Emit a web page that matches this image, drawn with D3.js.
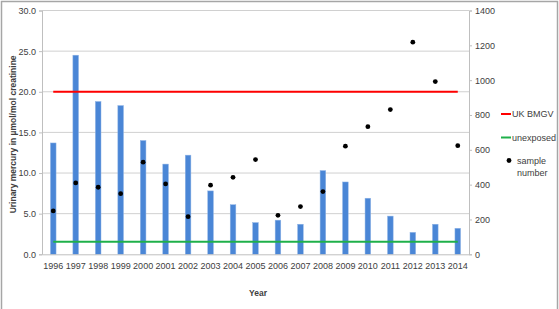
<!DOCTYPE html>
<meta charset='utf-8'>
<style type="text/css">
  body { margin: 0; background: #fff; }
  svg text { font-family: "Liberation Sans Narrow", "Arial Narrow", "Liberation Sans", sans-serif; fill: #404040; }
</style>
<body>
<div class="chart"></div>
<script src='https://cdn.jsdelivr.net/npm/d3@7'></script>
<script>

var years = ['1996','1997','1998','1999','2000','2001','2002','2003','2004','2005',
             '2006','2007','2008','2009','2010','2011','2012','2013','2014'];
var mercury = [13.7, 24.5, 18.8, 18.3, 14.0, 11.1, 12.2, 7.8, 6.1, 3.9,
               4.2, 3.7, 10.3, 8.9, 6.9, 4.7, 2.7, 3.7, 3.2];
var sampleNumber = [249, 410, 385, 348, 529, 404, 216, 397, 442, 544,
                    224, 274, 360, 621, 733, 831, 1218, 992, 624];
var ukBmgv = 20;
var unexposed = 1.55;
var leftTicks = [0, 5, 10, 15, 20, 25, 30];
var rightTicks = [0, 200, 400, 600, 800, 1000, 1200, 1400];

var width = 559, height = 309;
var plot = {left: 42, right: 469, top: 10.5, bottom: 254.3};

var svg = d3.select('.chart')
  .append('svg')
  .attr('width', width)
  .attr('height', height);

// outer chart border
svg.append('path')
  .attr('d', 'M1.5,312V1.5H557.5V312')
  .attr('fill', 'none')
  .attr('stroke', '#a6a6a6')
  .attr('stroke-width', 1.5);

var x = d3.scaleBand()
  .domain(years)
  .range([plot.left, plot.right])
  .paddingInner(0.75)
  .paddingOuter(0.375);

var xc = function(d){ return x(d) + x.bandwidth() / 2; };

var yL = d3.scaleLinear().domain([0, 30]).range([plot.bottom, plot.top]);
var yR = d3.scaleLinear().domain([0, 1400]).range([plot.bottom, plot.top]);

// gridlines
svg.append('g')
  .selectAll('line')
  .data(leftTicks.slice(1))
  .enter().append('line')
  .attr('x1', plot.left).attr('x2', plot.right)
  .attr('y1', function(d){ return yL(d); })
  .attr('y2', function(d){ return yL(d); })
  .attr('stroke', '#d0d0d0')
  .attr('stroke-width', 1);

// bars
svg.append('g')
  .selectAll('rect')
  .data(mercury)
  .enter().append('rect')
  .attr('x', function(d, i){ return x(years[i]); })
  .attr('width', x.bandwidth())
  .attr('y', function(d){ return yL(d); })
  .attr('height', function(d){ return yL(0) - yL(d); })
  .attr('fill', '#4a86d6')
  .attr('stroke', '#8fb4e6')
  .attr('stroke-width', 0.5);

// reference lines
var refLine = function(v, colour){
  svg.append('line')
    .attr('x1', xc(years[0]))
    .attr('x2', xc(years[years.length - 1]))
    .attr('y1', yL(v)).attr('y2', yL(v))
    .attr('stroke', colour)
    .attr('stroke-width', 2);
};
refLine(ukBmgv, '#ff0000');
refLine(unexposed, '#1fb04a');

// sample number dots
svg.append('g')
  .selectAll('circle')
  .data(sampleNumber)
  .enter().append('circle')
  .attr('cx', function(d, i){ return xc(years[i]); })
  .attr('cy', function(d){ return yR(d); })
  .attr('r', 2.4)
  .attr('fill', '#000');

// axes
var leftAxis = svg.append('g')
  .attr('transform', 'translate(' + plot.left + ',0)')
  .call(d3.axisLeft(yL).tickValues(leftTicks).tickSize(3).tickFormat(d3.format('.1f')));

var rightAxis = svg.append('g')
  .attr('transform', 'translate(' + plot.right + ',0)')
  .call(d3.axisRight(yR).tickValues(rightTicks).tickSize(3).tickFormat(d3.format('d')));

var bottomAxis = svg.append('g')
  .attr('transform', 'translate(0,' + plot.bottom + ')')
  .call(d3.axisBottom(x).tickSize(0).tickPadding(8));

[leftAxis, rightAxis, bottomAxis].forEach(function(g){
  g.selectAll('.domain').attr('stroke', '#bfbfbf');
  g.selectAll('.tick line').attr('stroke', '#bfbfbf');
  g.selectAll('text')
    .attr('font-family', '"Liberation Sans Narrow", "Arial Narrow", sans-serif')
    .attr('font-size', 9)
    .attr('fill', '#404040');
});
bottomAxis.select('.domain').attr('stroke', '#bfbfbf');

// axis titles
svg.append('text')
  .attr('transform', 'translate(16,' + ((plot.top + plot.bottom) / 2 + 2) + ') rotate(-90)')
  .attr('text-anchor', 'middle')
  .attr('font-size', 8.5)
  .attr('font-weight', 'bold')
  .style('font-family', '"Liberation Sans", sans-serif')
  .text('Urinary mercury in µmol/mol creatinine');

svg.append('text')
  .attr('x', 258)
  .attr('y', 296)
  .attr('text-anchor', 'middle')
  .attr('font-size', 8.5)
  .attr('font-weight', 'bold')
  .style('font-family', '"Liberation Sans", sans-serif')
  .text('Year');

// legend
var legend = svg.append('g').attr('font-size', 9);
legend.append('line')
  .attr('x1', 501).attr('x2', 511).attr('y1', 114).attr('y2', 114)
  .attr('stroke', '#ff0000').attr('stroke-width', 2);
legend.append('text').attr('x', 512).attr('y', 117).text('UK BMGV');
legend.append('line')
  .attr('x1', 501).attr('x2', 511).attr('y1', 137.5).attr('y2', 137.5)
  .attr('stroke', '#1fb04a').attr('stroke-width', 2);
legend.append('text').attr('x', 512).attr('y', 140.5).text('unexposed');
legend.append('circle').attr('cx', 509).attr('cy', 160.5).attr('r', 2.4).attr('fill', '#000');
legend.append('text').attr('x', 517).attr('y', 164).text('sample');
legend.append('text').attr('x', 517).attr('y', 176).text('number');

</script>
</body>
</html>
